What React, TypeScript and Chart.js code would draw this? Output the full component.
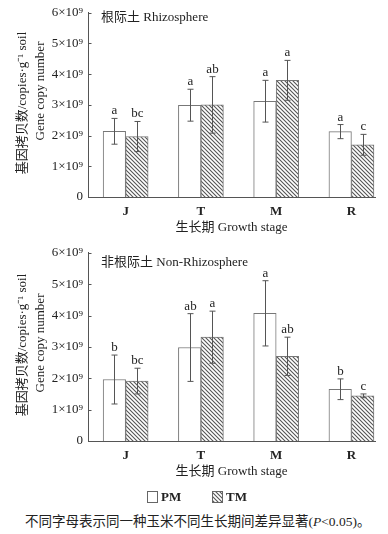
import React, { useEffect, useRef } from 'react';
import { Chart, registerables } from 'chart.js';
Chart.register(...registerables);

const stages = ['J', 'T', 'M', 'R'];
const yTickLabels = ['0', '1×10⁹', '2×10⁹', '3×10⁹', '4×10⁹', '5×10⁹', '6×10⁹'];
const seriesNames = ['PM', 'TM'];

// Rhizosphere, gene copies (×10^9 copies·g^-1 soil)
const rhizoPM = [2.14, 2.99, 3.12, 2.13];
const rhizoPMErr = [0.42, 0.52, 0.68, 0.23];
const rhizoTM = [1.97, 3.0, 3.8, 1.7];
const rhizoTMErr = [0.49, 0.92, 0.65, 0.34];
const rhizoPMLetters = ['a', 'a', 'a', 'a'];
const rhizoTMLetters = ['bc', 'ab', 'a', 'c'];

// Non-rhizosphere
const nonPM = [1.96, 2.98, 4.07, 1.65];
const nonPMErr = [0.78, 1.08, 1.04, 0.33];
const nonTM = [1.91, 3.31, 2.7, 1.44];
const nonTMErr = [0.41, 0.83, 0.61, 0.06];
const nonPMLetters = ['b', 'ab', 'a', 'b'];
const nonTMLetters = ['bc', 'a', 'ab', 'c'];

const FONT = "'Liberation Serif', 'Noto Sans CJK SC', serif";
const TEXT = '#222';
const AXIS = '#555';

function makeHatch(): CanvasPattern | string {
  const c = document.createElement('canvas');
  c.width = 4;
  c.height = 4;
  const g = c.getContext('2d');
  if (!g) return '#999';
  g.fillStyle = '#fff';
  g.fillRect(0, 0, 4, 4);
  g.strokeStyle = '#555';
  g.lineWidth = 1.1;
  g.beginPath();
  g.moveTo(0, 0);
  g.lineTo(4, 4);
  g.moveTo(-1, 3);
  g.lineTo(1, 5);
  g.moveTo(3, -1);
  g.lineTo(5, 1);
  g.stroke();
  return g.createPattern(c, 'repeat') || '#999';
}

interface Geom {
  height: number;
  top: number;
  bottom: number;
  panelTitle: string;
  panelTitleY: number;
  xTitleY: number;
  yTitle1Y: number;
  yTitle2Y: number;
  legendY?: number;
}

function buildChart(
  canvas: HTMLCanvasElement,
  pm: number[],
  pmErr: number[],
  tm: number[],
  tmErr: number[],
  pmL: string[],
  tmL: string[],
  geom: Geom
) {
  const hatch = makeHatch();
  const errs = [pmErr, tmErr];
  const letters = [pmL, tmL];
  const vals = [pm, tm];

  const overlay = {
    id: 'overlay',
    afterDraw(chart: any) {
      const ctx: CanvasRenderingContext2D = chart.ctx;
      const ys = chart.scales.y;
      const area = chart.chartArea;
      ctx.save();
      // inward y ticks
      ctx.strokeStyle = AXIS;
      ctx.lineWidth = 1;
      for (let v = 0; v < yTickLabels.length; v++) {
        const y = Math.round(ys.getPixelForValue(v)) + 0.5;
        ctx.beginPath();
        ctx.moveTo(area.left, y);
        ctx.lineTo(area.left + 3.5, y);
        ctx.stroke();
      }
      // error bars and letters
      for (let d = 0; d < 2; d++) {
        const meta = chart.getDatasetMeta(d);
        meta.data.forEach((bar: any, i: number) => {
          const x = Math.round(bar.x) + 0.5;
          const yt = ys.getPixelForValue(vals[d][i] + errs[d][i]);
          const yb = ys.getPixelForValue(vals[d][i] - errs[d][i]);
          ctx.strokeStyle = '#555';
          ctx.lineWidth = 1;
          ctx.beginPath();
          ctx.moveTo(x, yt);
          ctx.lineTo(x, yb);
          ctx.moveTo(x - 3, yt);
          ctx.lineTo(x + 3, yt);
          ctx.moveTo(x - 3, yb);
          ctx.lineTo(x + 3, yb);
          ctx.stroke();
          ctx.fillStyle = TEXT;
          ctx.font = `13px ${FONT}`;
          ctx.textAlign = 'center';
          ctx.textBaseline = 'alphabetic';
          ctx.fillText(letters[d][i], x, yt - 4);
        });
      }
      // panel title
      ctx.fillStyle = TEXT;
      ctx.font = `13px ${FONT}`;
      ctx.textAlign = 'left';
      ctx.textBaseline = 'middle';
      ctx.fillText(geom.panelTitle, 101, geom.panelTitleY);
      // x title
      ctx.textAlign = 'center';
      ctx.fillText('生长期 Growth stage', (area.left + area.right) / 2, geom.xTitleY);
      // y title (two rotated lines)
      ctx.save();
      ctx.translate(23, geom.yTitle1Y);
      ctx.rotate(-Math.PI / 2);
      ctx.fillText('基因拷贝数/copies·g⁻¹ soil', 0, 0);
      ctx.restore();
      ctx.save();
      ctx.translate(41, geom.yTitle2Y);
      ctx.rotate(-Math.PI / 2);
      ctx.fillText('Gene copy number', 0, 0);
      ctx.restore();
      // legend
      if (geom.legendY !== undefined) {
        const ly = geom.legendY;
        const items = [
          { x: 147, fill: '#fff' as any, label: seriesNames[0] },
          { x: 212, fill: hatch as any, label: seriesNames[1] },
        ];
        items.forEach((it) => {
          ctx.fillStyle = it.fill;
          ctx.fillRect(it.x, ly - 6, 10, 12);
          ctx.strokeStyle = '#666';
          ctx.lineWidth = 1;
          ctx.strokeRect(it.x + 0.5, ly - 5.5, 10, 11);
          ctx.fillStyle = TEXT;
          ctx.font = `bold 13px ${FONT}`;
          ctx.textAlign = 'left';
          ctx.textBaseline = 'middle';
          ctx.fillText(it.label, it.x + 14, ly + 1);
        });
      }
      ctx.restore();
    },
  };

  const mkData = (arr: number[]) => arr.map((v, i) => ({ x: i, y: v }));

  return new Chart(canvas, {
    type: 'bar',
    data: {
      datasets: [
        {
          label: seriesNames[0],
          data: mkData(pm),
          backgroundColor: '#ffffff',
          borderColor: '#777',
          borderWidth: 1,
          barThickness: 22.5,
        },
        {
          label: seriesNames[1],
          data: mkData(tm),
          backgroundColor: hatch as any,
          borderColor: '#777',
          borderWidth: 1,
          barThickness: 22.5,
        },
      ],
    } as any,
    options: {
      responsive: false,
      animation: false,
      devicePixelRatio: 1,
      layout: { padding: { top: geom.top, right: 13, left: 0, bottom: 0 } },
      plugins: { legend: { display: false }, tooltip: { enabled: false }, title: { display: false } },
      scales: {
        x: {
          type: 'linear',
          min: -0.5,
          max: 3.313,
          offset: false,
          grid: { display: false, drawTicks: false },
          border: { display: true, color: AXIS, width: 1 },
          afterBuildTicks: (s: any) => {
            s.ticks = stages.map((_, i) => ({ value: i }));
          },
          ticks: {
            autoSkip: false,
            maxRotation: 0,
            padding: 7,
            color: TEXT,
            font: { family: FONT, size: 13, weight: 'bold' },
            callback: (v: any) => stages[v as number] ?? '',
          },
          afterFit: (s: any) => {
            s.height = geom.height - geom.bottom;
          },
        },
        y: {
          min: 0,
          max: 6,
          grid: { display: false, drawTicks: false },
          border: { display: true, color: AXIS, width: 1 },
          afterBuildTicks: (s: any) => {
            s.ticks = yTickLabels.map((_, i) => ({ value: i }));
          },
          ticks: {
            padding: 5,
            color: TEXT,
            font: { family: FONT, size: 13 },
            callback: (v: any) => yTickLabels[v as number] ?? '',
          },
          afterFit: (s: any) => {
            s.width = 88;
          },
        },
      },
    } as any,
    plugins: [overlay],
  });
}

const topGeom: Geom = {
  height: 240,
  top: 9,
  bottom: 197,
  panelTitle: '根际土 Rhizosphere',
  panelTitleY: 18,
  xTitleY: 228,
  yTitle1Y: 103,
  yTitle2Y: 91,
};

const bottomGeom: Geom = {
  height: 270,
  top: 12,
  bottom: 201,
  panelTitle: '非根际土 Non-Rhizosphere',
  panelTitleY: 23,
  xTitleY: 232,
  yTitle1Y: 105,
  yTitle2Y: 103,
  legendY: 257,
};

export default function App() {
  const ref1 = useRef<HTMLCanvasElement>(null);
  const ref2 = useRef<HTMLCanvasElement>(null);
  useEffect(() => {
    if (!ref1.current || !ref2.current) return;
    const c1 = buildChart(ref1.current, rhizoPM, rhizoPMErr, rhizoTM, rhizoTMErr, rhizoPMLetters, rhizoTMLetters, topGeom);
    const c2 = buildChart(ref2.current, nonPM, nonPMErr, nonTM, nonTMErr, nonPMLetters, nonTMLetters, bottomGeom);
    return () => {
      c1.destroy();
      c2.destroy();
    };
  }, []);
  return (
    <div style={{ position: 'absolute', left: 0, top: 0, width: 388, height: 534, background: '#fff', overflow: 'hidden' }}>
      <canvas ref={ref1} width={388} height={240} style={{ position: 'absolute', left: 0, top: 0, width: 388, height: 240 }} />
      <canvas ref={ref2} width={388} height={270} style={{ position: 'absolute', left: 0, top: 240, width: 388, height: 270 }} />
      <div
        style={{
          position: 'absolute',
          left: 25,
          top: 513,
          fontFamily: FONT,
          fontSize: 13.5,
          color: TEXT,
          whiteSpace: 'nowrap',
          lineHeight: '18px',
        }}
      >
        不同字母表示同一种玉米不同生长期间差异显著(<i>P</i>&lt;0.05)。
      </div>
    </div>
  );
}
